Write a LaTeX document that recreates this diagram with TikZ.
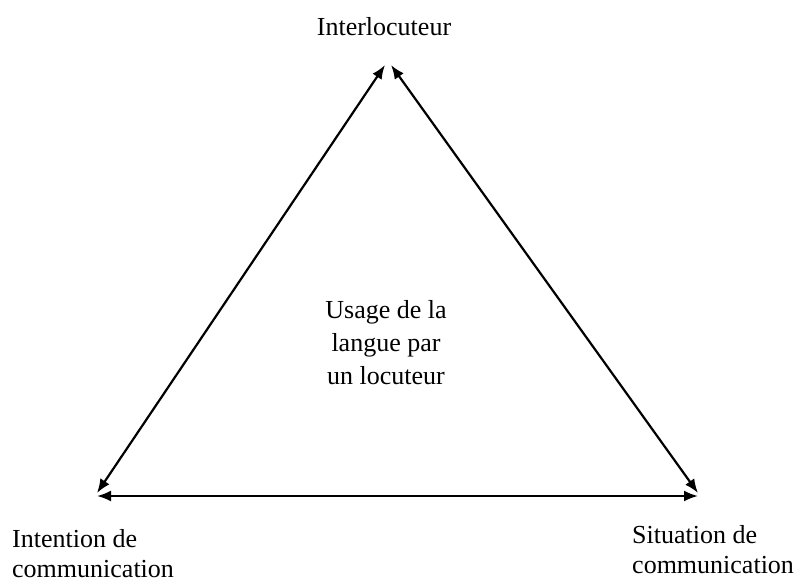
\documentclass[tikz,border=0pt]{standalone}
\usepackage{fontspec}
\setmainfont{Liberation Serif}
\usetikzlibrary{arrows.meta}
\tikzset{>={Latex[length=14pt,width=11pt]}}
\tikzset{
  corner text/.style={font=\fontsize{26}{29.5}\selectfont, inner sep=0pt},
  centre text/.style={font=\fontsize{26}{33}\selectfont, inner sep=0pt, align=center},
  link/.style={<->, line width=2.2pt},
}

\begin{document}
\begin{tikzpicture}[x=1pt, y=-1pt]
            \useasboundingbox (0, 0) rectangle (795, 581);
            \coordinate (topL) at (385, 65);
            \coordinate (topR) at (391, 65);
            \coordinate (leftD) at (97, 493);
            \coordinate (leftH) at (97, 496);
            \coordinate (rightD) at (698, 493);
            \coordinate (rightH) at (698, 496);
            \draw[link] (topL) -- (leftD);
            \draw[link] (topR) -- (rightD);
            \draw[link] (leftH) -- (rightH);
            % base anchor sits on the last line
            \node[corner text, anchor=base] (interlocuteur) at (384, 35) {Interlocuteur};
            \node[corner text, align=left, anchor=base west] (intention) at (12, 577) {Intention de\\communication};
            \node[corner text, align=left, anchor=base west] (situation) at (632, 573) {Situation de\\communication};
            \node[centre text, anchor=base] (usage) at (386, 384) {Usage de la\\langue par\\un locuteur};
        \end{tikzpicture}
\end{document}
